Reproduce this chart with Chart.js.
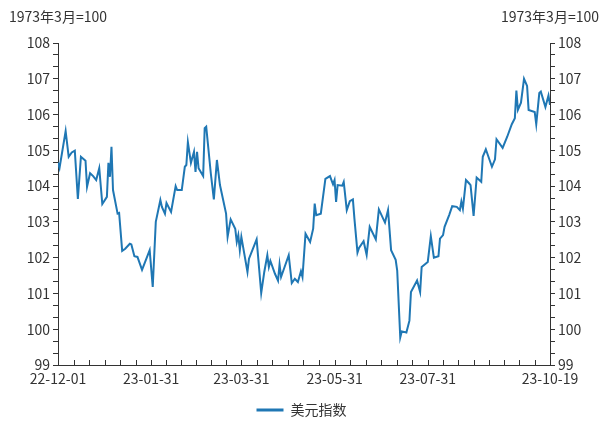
<!DOCTYPE html>
<html lang="zh">
<head>
    <meta charset="UTF-8">
    <title>美元指数</title>
    <script src="https://cdn.jsdelivr.net/npm/chart.js"></script>
    <style>
        body {
            margin: 0;
            padding: 0;
            background-color: #ffffff;
        }
        .wrap {
            width: 614px;
            height: 427px;
            position: relative;
        }
    </style>
</head>
<body>
    <div class="wrap">
        <canvas id="dxyChart"></canvas>
    </div>
    <script>
        // days counted from 2022-12-01
        const days = [0, 1, 5, 7, 9, 11, 13, 15, 18, 19, 21, 23, 25, 27, 29, 32, 33, 34, 35, 36,
            39, 40, 42, 44, 47, 48, 50, 52, 55, 60, 62, 64, 67, 68, 70, 71, 74, 77, 78, 81,
            83, 84, 85, 87, 89, 90, 91, 92, 95, 96, 97, 100, 102, 104, 106, 110, 111, 113, 116, 117,
            118, 119, 120, 124, 125, 130, 133, 135, 137, 138, 139, 142, 144, 145, 146, 151, 153, 155, 157, 159,
            160, 162, 165, 167, 168, 169, 172, 175, 178, 180, 181, 182, 183, 186, 187, 189, 191, 193, 194, 196,
            197, 200, 202, 204, 208, 210, 214, 216, 218, 221, 222, 224, 225, 228, 230, 231, 235, 237, 238, 242,
            244, 246, 249, 250, 252, 253, 256, 258, 261, 263, 264, 265, 267, 269, 270, 272, 274, 277, 278, 280,
            284, 286, 287, 291, 294, 297, 299, 300, 301, 303, 305, 307, 308, 312, 313, 315, 316, 319, 321, 322];
        const dxy = [104.66, 104.51, 105.54, 104.82, 104.94, 104.99, 103.64, 104.82, 104.71, 103.98,
            104.36, 104.28, 104.17, 104.50, 103.50, 103.70, 104.65, 104.26, 105.10, 103.89,
            103.23, 103.25, 102.19, 102.25, 102.39, 102.37, 102.04, 102.02, 101.66, 102.21,
            101.18, 103.00, 103.61, 103.42, 103.23, 103.53, 103.28, 104.00, 103.89, 103.89,
            104.54, 104.59, 105.23, 104.65, 104.96, 104.40, 104.96, 104.50, 104.28, 105.62,
            105.66, 104.36, 103.63, 104.73, 104.03, 103.23, 102.58, 103.07, 102.81, 102.44,
            102.63, 102.21, 102.58, 101.60, 101.97, 102.51, 101.01, 101.60, 102.07, 101.74,
            101.91, 101.55, 101.36, 101.81, 101.46, 102.07, 101.29, 101.41, 101.32, 101.62,
            101.46, 102.67, 102.44, 102.81, 103.51, 103.19, 103.23, 104.20, 104.28, 104.05,
            104.17, 103.56, 104.03, 104.01, 104.12, 103.33, 103.58, 103.63, 103.09, 102.14,
            102.27, 102.46, 102.08, 102.86, 102.51, 103.35, 102.98, 103.33, 102.21, 101.94,
            101.64, 99.77, 99.94, 99.91, 100.24, 101.04, 101.36, 101.04, 101.74, 101.88,
            102.60, 102.00, 102.04, 102.53, 102.63, 102.86, 103.19, 103.44, 103.42, 103.33,
            103.57, 103.37, 104.17, 104.08, 104.03, 103.17, 104.24, 104.12, 104.82, 105.03,
            104.54, 104.75, 105.31, 105.07, 105.38, 105.73, 105.90, 106.67, 106.13, 106.33,
            107.00, 106.80, 106.13, 106.07, 105.73, 106.60, 106.64, 106.21, 106.53, 106.27];

        const tickDays = [0, 61, 120, 181, 242, 322];
        const tickLabels = ['22-12-01', '23-01-31', '23-03-31', '23-05-31', '23-07-31', '23-10-19'];
        const tickSplits = [6, 6, 6, 6, 8];
        const yMin = 99;
        const yMax = 108;

        const axisColor = '#333';
        const lineColor = '#1f77b4';
        const fontFamily = "'Noto Sans CJK SC', 'Noto Sans', sans-serif";
        const fontSize = 14;

        // x minor ticks between labelled dates
        const xTickValues = [];
        for (let i = 0; i < tickSplits.length; i++) {
            const a = tickDays[i], b = tickDays[i + 1];
            for (let k = 0; k < tickSplits[i]; k++) {
                xTickValues.push(a + (b - a) * k / tickSplits[i]);
            }
        }
        xTickValues.push(tickDays[tickDays.length - 1]);

        const yTickValues = [];
        for (let i = 0; i <= (yMax - yMin) * 3; i++) {
            yTickValues.push(yMin + i / 3);
        }

        function yLabel(value) {
            const r = Math.round(value);
            return Math.abs(value - r) < 1e-6 ? String(r) : '';
        }

        const extras = {
            id: 'extras',
            afterDraw(chart) {
                const ctx = chart.ctx;
                const x = chart.scales.x;
                const area = chart.chartArea;
                ctx.save();
                ctx.strokeStyle = axisColor;
                ctx.lineWidth = 1;
                ctx.beginPath();
                xTickValues.forEach(v => {
                    const px = Math.round(x.getPixelForValue(v)) + 0.5;
                    ctx.moveTo(px, area.bottom);
                    ctx.lineTo(px, area.bottom - 5);
                });
                ctx.stroke();

                ctx.fillStyle = axisColor;
                ctx.font = fontSize + 'px ' + fontFamily;
                ctx.textAlign = 'center';
                ctx.textBaseline = 'middle';
                ctx.fillText('1973年3月=100', area.left, 17);
                ctx.fillText('1973年3月=100', area.right, 17);
                ctx.restore();
            }
        };

        const ctx = document.getElementById('dxyChart').getContext('2d');
        new Chart(ctx, {
            type: 'line',
            data: {
                datasets: [{
                    label: '美元指数',
                    data: days.map((d, i) => ({ x: d, y: dxy[i] })),
                    borderColor: lineColor,
                    backgroundColor: lineColor,
                    borderWidth: 2,
                    pointRadius: 0,
                    tension: 0,
                    yAxisID: 'y'
                }]
            },
            options: {
                responsive: true,
                maintainAspectRatio: false,
                animation: false,
                layout: {
                    padding: { top: 43, bottom: 0, left: 0, right: 11 }
                },
                plugins: {
                    legend: {
                        position: 'bottom',
                        labels: {
                            color: axisColor,
                            font: { family: fontFamily, size: fontSize },
                            boxWidth: 27,
                            boxHeight: 3,
                            padding: 9,
                            generateLabels(chart) {
                                const items = Chart.defaults.plugins.legend.labels.generateLabels(chart);
                                items.forEach(it => {
                                    it.lineWidth = 0;
                                    it.fillStyle = lineColor;
                                });
                                return items;
                            }
                        }
                    },
                    tooltip: { enabled: false }
                },
                scales: {
                    x: {
                        type: 'linear',
                        min: 0,
                        max: tickDays[tickDays.length - 1],
                        afterBuildTicks(scale) {
                            scale.ticks = tickDays.map(v => ({ value: v }));
                        },
                        afterFit(scale) {
                            scale.height = 29;
                        },
                        ticks: {
                            autoSkip: false,
                            maxRotation: 0,
                            padding: 5,
                            color: axisColor,
                            font: { family: fontFamily, size: fontSize },
                            callback(value) {
                                const i = tickDays.indexOf(value);
                                return i >= 0 ? tickLabels[i] : '';
                            }
                        },
                        grid: { display: true, drawOnChartArea: false, drawTicks: false },
                        border: { color: axisColor, width: 1 }
                    },
                    y: {
                        position: 'left',
                        min: yMin,
                        max: yMax,
                        afterBuildTicks(scale) {
                            scale.ticks = yTickValues.map(v => ({ value: v }));
                        },
                        afterFit(scale) {
                            scale.width = 58;
                        },
                        ticks: {
                            autoSkip: false,
                            padding: 3,
                            color: axisColor,
                            font: { family: fontFamily, size: fontSize },
                            callback: yLabel
                        },
                        grid: { drawOnChartArea: false, tickLength: 5, color: axisColor },
                        border: { color: axisColor, width: 1 }
                    },
                    y2: {
                        position: 'right',
                        min: yMin,
                        max: yMax,
                        afterBuildTicks(scale) {
                            scale.ticks = yTickValues.map(v => ({ value: v }));
                        },
                        afterFit(scale) {
                            scale.width = 53;
                        },
                        ticks: {
                            autoSkip: false,
                            padding: 3,
                            color: axisColor,
                            font: { family: fontFamily, size: fontSize },
                            callback: yLabel
                        },
                        grid: { drawOnChartArea: false, tickLength: 5, color: axisColor },
                        border: { color: axisColor, width: 1 }
                    }
                }
            },
            plugins: [extras]
        });
    </script>
</body>
</html>
